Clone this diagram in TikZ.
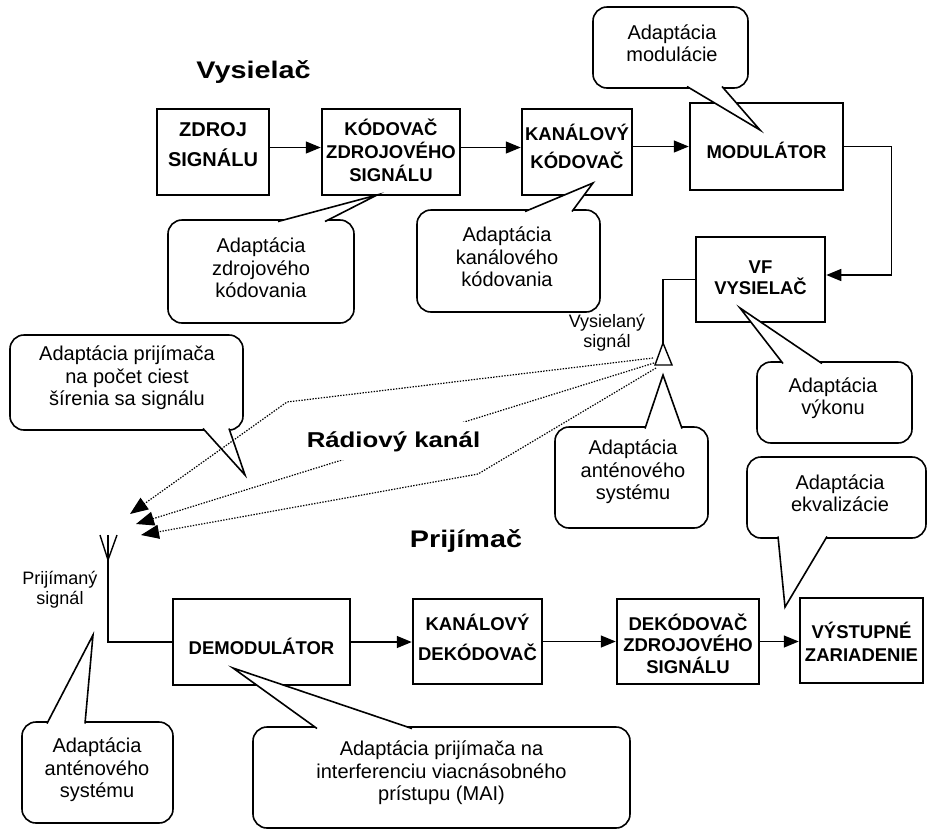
\documentclass[tikz,border=0pt]{standalone}
\usepackage{fontspec}
\setmainfont{Liberation Sans}
\newfontfamily\titlefont[FakeStretch=1.2]{Liberation Sans}
\usetikzlibrary{arrows.meta,calc}
\newcommand\cptr[3]{\fill[white] #1 -- #2 -- #3 -- cycle; \draw[ptr] #1 -- #2 -- #3;}
\tikzset{
 blk/.style={draw, line width=2.5pt, fill=white, inner sep=0pt},
 blktxt/.style={align=center, font=\bfseries\fontsize{18.5}{23}\selectfont, inner sep=0pt},
 cbox/.style={draw, line width=1.6pt, fill=white, rounded corners=14pt, inner sep=0pt},
 ctxt/.style={align=center, font=\fontsize{20}{22.5}\selectfont, inner sep=0pt},
 ptr/.style={line width=1.6pt, line join=miter},
 conn/.style={line width=1.4pt, -{Triangle[length=15pt,width=12pt]}},
 wire/.style={line width=1.4pt},
 radio/.style={line width=1.2pt, dash pattern=on 1.4pt off 1.4pt, -{Triangle[length=18pt,width=14pt]}},
 titletxt/.style={font=\titlefont\bfseries\fontsize{24}{28}\selectfont, anchor=base},
 smalltxt/.style={align=center, font=\fontsize{18}{20}\selectfont, inner sep=0pt},
}
\begin{document}
\begin{tikzpicture}[x=1pt,y=-1pt]
\fill[white] (0,0) rectangle (928,831);
\useasboundingbox (0,0) rectangle (928,831);

% ---- titles
\node[titletxt] (tvys) at (253.5,78) {Vysielač};
\node[titletxt] (tpri) at (466,547) {Prijímač};

% ---- transmitter blocks
\node[blk, minimum width=112pt, minimum height=86pt] (zdroj) at (213,152) {};
\node[blktxt, font=\bfseries\fontsize{20}{23}\selectfont] (zdrojt) at (213,145) {ZDROJ\\[7pt]SIGNÁLU};
\node[blk, minimum width=138pt, minimum height=86pt] (kod) at (391,152) {};
\node[blktxt] (kodt) at (391,150) {KÓDOVAČ\\ZDROJOVÉHO\\SIGNÁLU};
\node[blk, minimum width=110pt, minimum height=86pt] (kan) at (577,152) {};
\node[blktxt] (kant) at (577,146.5) {KANÁLOVÝ\\[5pt]KÓDOVAČ};
\node[blk, minimum width=153pt, minimum height=87pt] (mod) at (766.5,146.5) {};
\node[blktxt] (modt) at (766.5,150) {MODULÁTOR};
\node[blk, minimum width=129pt, minimum height=85pt] (vf) at (760.5,279.5) {};
\node[blktxt] (vft) at (760.5,277.5) {VF\\[-2pt]VYSIELAČ};

% ---- receiver blocks
\node[blk, minimum width=177pt, minimum height=86pt] (demod) at (261.5,642) {};
\node[blktxt] (demodt) at (261.5,646) {DEMODULÁTOR};
\node[blk, minimum width=129pt, minimum height=85pt] (kdek) at (477.5,641.5) {};
\node[blktxt] (kdekt) at (477.5,637) {KANÁLOVÝ\\[7pt]DEKÓDOVAČ};
\node[blk, minimum width=142pt, minimum height=85pt] (dek) at (688,641.5) {};
\node[blktxt] (dekt) at (688,643.5) {DEKÓDOVAČ\\[-1.5pt]ZDROJOVÉHO\\[-1.5pt]SIGNÁLU};
\node[blk, minimum width=123pt, minimum height=85pt] (vyst) at (861.5,640.5) {};
\node[blktxt] (vystt) at (861.5,642) {VÝSTUPNÉ\\ZARIADENIE};

% ---- connectors
\draw[conn] ([yshift=4.5pt]zdroj.east) -- ([yshift=4.5pt]kod.west);
\draw[conn] ([yshift=4.5pt]kod.east) -- ([yshift=4.5pt]kan.west);
\draw[conn] ([yshift=5.5pt]kan.east) -- (mod.west);
\draw[conn] (mod.east) -- ++(47,0) |- ([yshift=4.5pt]vf.east);
\coordinate (txant) at (663,343);
\draw[wire] (vf.west) -| (txant);
\draw[wire] (655,365) -- (txant) -- (672,365) -- cycle;

\coordinate (rxant) at (108,535);
\draw[wire] (rxant) |- (demod.west);
\draw[wire] (100,535) -- (108,560) -- (117,535);
\draw[conn] (demod.east) -- (demod.east -| kdek.west);
\draw[conn] (kdek.east) -- (kdek.east -| dek.west);
\draw[conn] (dek.east) -- (dek.east -| vyst.west);

% ---- small labels
\node[smalltxt] (vsig) at (607,333) {Vysielaný\\signál};
\node[smalltxt] (psig) at (60,590) {Prijímaný\\signál};

% ---- callouts
\node[cbox, minimum width=155pt, minimum height=81pt] (c1) at (670.5,47.5) {};
\cptr{(687,86.5)}{(760,130)}{(722,86.5)}
\node[ctxt] (c1t) at (672,43) {Adaptácia\\modulácie};

\node[cbox, minimum width=186pt, minimum height=103pt] (c2) at (261,271.5) {};
\cptr{(278,221.5)}{(377,195)}{(325,221.5)}
\node[ctxt] (c2t) at (261,268) {Adaptácia\\zdrojového\\kódovania};

\node[cbox, minimum width=183pt, minimum height=102pt] (c3) at (508.5,261) {};
\cptr{(525,211.5)}{(593,183)}{(572,211.5)}
\node[ctxt] (c3t) at (507,257) {Adaptácia\\kanálového\\kódovania};

\node[cbox, minimum width=233pt, minimum height=95pt] (c4) at (126.5,382.5) {};
\cptr{(203,428.5)}{(245,475)}{(229,428.5)}
\node[ctxt] (c4t) at (127,378) {Adaptácia prijímača\\na počet ciest\\šírenia sa signálu};

\node[cbox, minimum width=153pt, minimum height=101pt] (c5) at (631.5,477.5) {};
\cptr{(645,428.5)}{(663,375)}{(682,428.5)}
\node[ctxt] (c5t) at (633,472) {Adaptácia\\anténového\\systému};

\node[cbox, minimum width=155pt, minimum height=81pt] (c6) at (834.5,402.5) {};
\cptr{(783,363.5)}{(740,308)}{(822,363.5)}
\node[ctxt] (c6t) at (833,398) {Adaptácia\\výkonu};

\node[cbox, minimum width=179pt, minimum height=81pt] (c7) at (836.5,497.5) {};
\cptr{(778,536.5)}{(785,607)}{(827,536.5)}
\node[ctxt] (c7t) at (840,493) {Adaptácia\\ekvalizácie};

\node[cbox, minimum width=151pt, minimum height=101pt] (c8) at (97.5,772.5) {};
\cptr{(47,723.5)}{(93,635)}{(85,723.5)}
\node[ctxt] (c8t) at (97,770) {Adaptácia\\anténového\\systému};

\node[cbox, minimum width=377pt, minimum height=101pt] (c9) at (441.5,777.5) {};
\cptr{(317,728.5)}{(233,668)}{(412,728.5)}
\node[ctxt] (c9t) at (441.5,773) {Adaptácia prijímača na\\interferenciu viacnásobného\\prístupu (MAI)};

% ---- radio paths
\coordinate (sa) at (653,358);
\coordinate (sb) at (654,363);
\coordinate (sc) at (656,368);
\coordinate (ba) at (287,402);
\coordinate (bc) at (478,474);
\coordinate (ea) at (130,514);
\coordinate (eb) at (136,524);
\coordinate (ec) at (141,535);
\draw[radio] (sa) -- (ba) -- (ea);
\draw[radio] (sb) -- (eb);
\draw[radio] (sc) -- (bc) -- (ec);

\node[titletxt, font=\titlefont\bfseries\fontsize{21.5}{25}\selectfont, fill=white, inner xsep=3pt, inner ysep=9pt] (trad) at (393.5,447) {Rádiový kanál};
\end{tikzpicture}
\end{document}
